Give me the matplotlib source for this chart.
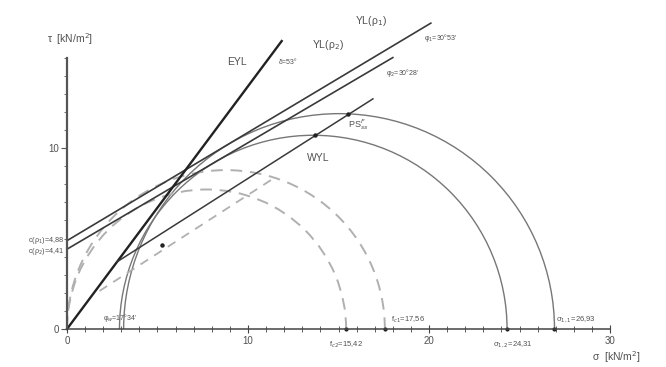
import numpy as np
import matplotlib.pyplot as plt
from matplotlib.patches import Arc

plt.rcParams["font.family"] = ["Liberation Sans", "DejaVu Sans"]

# yield loci YL: cohesion c [kN/m2], angle of internal friction [deg], end sigma
yl_labels = ["YL(ρ$_1$)", "YL(ρ$_2$)"]
yl_c = [4.88, 4.41]
yl_phi = [30 + 53 / 60, 30 + 28 / 60]
yl_end = [20.1, 18.0]

# effective yield locus through origin
eyl_delta = 53.3
eyl_end = 11.86

# wall yield locus
wyl_c = 1.95
wyl_phi = 32.5
wyl_start, wyl_end = 2.76, 16.9

# dashed auxiliary line
aux_c = 0.94
aux_phi = 32.9
aux_start, aux_end = 1.8, 11.3

# Mohr circles: (sigma2, sigma1)
solid_s2 = [3.13, 2.90]
solid_s1 = [26.93, 24.31]
dashed_s2 = [0.0, 0.0]
dashed_s1 = [17.56, 15.42]

# marked points
pt_sigma = [15.54, 13.70, 5.23]
pt_tau = [11.89, 10.70, 4.64]

fig = plt.figure(figsize=(6.66, 3.67), dpi=100)
ax = fig.add_axes([0, 0, 1, 1])
ax.set_xlim(-3.70, 33.09)
ax.set_ylim(-2.10, 18.18)

line_col = "#3a3a3a"
circ_col = "#777777"
dash_col = "#b0b0b0"
txt_col = "#505050"

for c, phi, end in zip(yl_c, yl_phi, yl_end):
    s = np.array([0, end])
    ax.plot(s, c + np.tan(np.radians(phi)) * s, color=line_col, lw=1.2)

s = np.array([0, eyl_end])
ax.plot(s, np.tan(np.radians(eyl_delta)) * s, color="#222222", lw=1.7)

s = np.array([wyl_start, wyl_end])
ax.plot(s, wyl_c + np.tan(np.radians(wyl_phi)) * s, color=line_col, lw=1.1)

s = np.array([aux_start, aux_end])
ax.plot(s, aux_c + np.tan(np.radians(aux_phi)) * s, color=dash_col, lw=1.3,
        dashes=(5, 4))

for s2, s1 in zip(solid_s2, solid_s1):
    ax.add_patch(Arc(((s1 + s2) / 2, 0), s1 - s2, s1 - s2, theta1=0, theta2=180,
                     color=circ_col, lw=1.0))
for s2, s1 in zip(dashed_s2, dashed_s1):
    ax.add_patch(Arc(((s1 + s2) / 2, 0), s1 - s2, s1 - s2, theta1=0, theta2=180,
                     color=dash_col, lw=1.4, ls=(0, (6, 4))))

ax.plot(pt_sigma, pt_tau, "o", color="#222222", ms=2.2)
ax.plot(solid_s1 + dashed_s1, [0] * 4, "o", color="#222222", ms=2.0)

# axes
for side in ["top", "right"]:
    ax.spines[side].set_visible(False)
ax.spines["left"].set_position(("data", 0))
ax.spines["bottom"].set_position(("data", 0))
ax.spines["left"].set_bounds(0, 15)
ax.spines["bottom"].set_bounds(0, 30)
ax.spines["left"].set_linewidth(1.6)
ax.spines["bottom"].set_linewidth(1.1)
ax.spines["left"].set_color("#555555")
ax.spines["bottom"].set_color("#444444")
ax.set_xticks([0, 10, 20, 30])
ax.set_xticks(np.arange(0, 31, 1), minor=True)
ax.set_yticks([0, 10])
ax.set_yticks(np.arange(0, 16, 1), minor=True)
ax.tick_params(axis="x", which="both", direction="inout", colors="#444444",
               labelsize=7, pad=2)
ax.tick_params(axis="x", which="major", length=6)
ax.tick_params(axis="x", which="minor", length=4)
ax.tick_params(axis="y", which="both", direction="out", colors="#555555",
               labelsize=7, pad=2)
ax.tick_params(axis="y", which="major", length=4)
ax.tick_params(axis="y", which="minor", length=2.5)
for lab in ax.get_xticklabels() + ax.get_yticklabels():
    lab.set_color(txt_col)

ax.text(-1.1, 16.0, "τ  [kN/m$^2$]", fontsize=7.5, color=txt_col, va="center")
ax.text(29.0, -1.55, "σ  [kN/m$^2$]", fontsize=7.5, color=txt_col, va="center")

ax.text(9.4, 14.77, "EYL", fontsize=7.5, color=txt_col, ha="center", va="center")
ax.text(12.2, 14.7, "δ=53°", fontsize=5, color=txt_col, ha="center", va="center")
ax.text(14.4, 15.7, yl_labels[1], fontsize=7.5, color=txt_col, ha="center", va="center")
ax.text(16.8, 17.0, yl_labels[0], fontsize=7.5, color=txt_col, ha="center", va="center")
ax.text(19.7, 16.06, "φ$_1$=30°53'", fontsize=5, color=txt_col, va="center")
ax.text(17.6, 14.14, "φ$_2$=30°28'", fontsize=5, color=txt_col, va="center")
ax.text(15.5, 11.3, "PS$^F_{ss}$", fontsize=6.5, color=txt_col, va="center")
ax.text(13.9, 9.45, "WYL", fontsize=7.5, color=txt_col, ha="center", va="center")
ax.text(-0.15, yl_c[0], "c(ρ$_1$)=4,88", fontsize=5.2, color=txt_col,
        ha="right", va="center")
ax.text(-0.15, yl_c[1] - 0.12, "c(ρ$_2$)=4,41", fontsize=5.2, color=txt_col,
        ha="right", va="center")
ax.text(2.0, 0.6, "φ$_w$=17°34'", fontsize=5, color=txt_col, va="center")
ax.text(dashed_s1[0] + 0.35, 0.5, "f$_{c1}$=17,56", fontsize=5.5, color=txt_col,
        va="center")
ax.text(dashed_s1[1], -0.85, "f$_{c2}$=15,42", fontsize=5.5, color=txt_col,
        ha="center", va="center")
ax.text(solid_s1[0] + 0.1, 0.5, "σ$_{1,1}$=26,93", fontsize=5.5, color=txt_col,
        va="center")
ax.text(solid_s1[1] + 0.3, -0.85, "σ$_{1,2}$=24,31", fontsize=5.5, color=txt_col,
        ha="center", va="center")

fig.savefig("out.png", dpi=100, facecolor="white")
